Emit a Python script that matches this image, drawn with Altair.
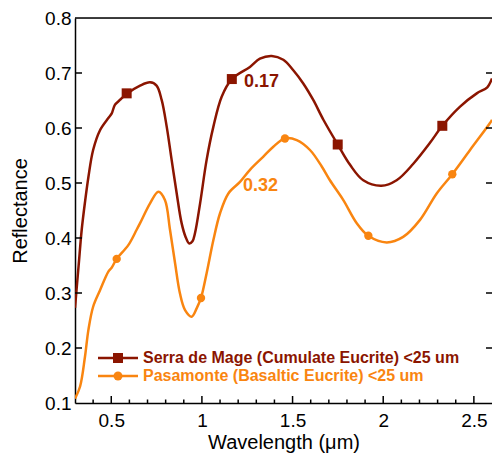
import altair as alt
import pandas as pd

# ---- data ----
serra_w = [0.300, 0.320, 0.337, 0.355, 0.374, 0.400, 0.438, 0.484, 0.502, 0.520, 0.548, 0.585,
           0.659, 0.714, 0.750, 0.778, 0.806, 0.833, 0.861, 0.888, 0.910, 0.930, 0.948, 0.962,
           0.990, 1.026, 1.063, 1.109, 1.165, 1.265, 1.320, 1.385, 1.449, 1.504, 1.559, 1.614,
           1.670, 1.749, 1.817, 1.890, 1.990, 2.074, 2.166, 2.258, 2.326, 2.424, 2.516,
           2.574, 2.600]
serra_r = [0.273, 0.350, 0.415, 0.465, 0.511, 0.560, 0.596, 0.618, 0.626, 0.642, 0.651, 0.662,
           0.677, 0.683, 0.677, 0.651, 0.602, 0.542, 0.481, 0.427, 0.402, 0.390, 0.394, 0.409,
           0.463, 0.542, 0.602, 0.657, 0.689, 0.711, 0.726, 0.731, 0.724, 0.705, 0.681, 0.651,
           0.615, 0.570, 0.533, 0.505, 0.495, 0.505, 0.535, 0.573, 0.604, 0.639, 0.663,
           0.674, 0.690]

pasa_w = [0.300, 0.328, 0.355, 0.374, 0.400, 0.438, 0.484, 0.502, 0.530, 0.594, 0.640, 0.659,
          0.714, 0.760, 0.796, 0.824, 0.852, 0.879, 0.907, 0.944, 0.971, 0.995, 1.026,
          1.063, 1.100, 1.146, 1.210, 1.265, 1.339, 1.394, 1.458, 1.523, 1.596, 1.661,
          1.706, 1.780, 1.854, 1.918, 2.019, 2.110, 2.203, 2.295, 2.381, 2.479, 2.589, 2.600]
pasa_r = [0.108, 0.130, 0.184, 0.233, 0.275, 0.305, 0.339, 0.346, 0.362, 0.387, 0.415, 0.427,
          0.463, 0.484, 0.469, 0.415, 0.354, 0.299, 0.269, 0.257, 0.272, 0.291, 0.336,
          0.396, 0.445, 0.481, 0.502, 0.524, 0.548, 0.566, 0.581, 0.578, 0.560, 0.530,
          0.505, 0.469, 0.427, 0.404, 0.392, 0.402, 0.433, 0.481, 0.516, 0.560, 0.609, 0.615]

serra_mark_w = [0.585, 1.165, 1.749, 2.326]
serra_mark_r = [0.663, 0.689, 0.570, 0.604]
pasa_mark_w = [0.530, 0.995, 1.458, 1.918, 2.381]
pasa_mark_r = [0.362, 0.291, 0.581, 0.404, 0.516]

series_names = ["Serra de Mage (Cumulate Eucrite) <25 um",
                "Pasamonte (Basaltic Eucrite) <25 um"]
annot_text = ["0.17", "0.32"]
annot_w = [1.232, 1.227]
annot_r = [0.684, 0.494]

x_major = [0.5, 1.0, 1.5, 2.0, 2.5]
x_minor = [0.4, 0.6, 0.7, 0.8, 0.9, 1.1, 1.2, 1.3, 1.4, 1.6, 1.7, 1.8, 1.9,
           2.1, 2.2, 2.3, 2.4]
y_ticks = [0.1, 0.2, 0.3, 0.4, 0.5, 0.6, 0.7, 0.8]

RED = "#8b1500"
ORANGE = "#f98510"
FONT = "Liberation Sans"
W, H = 417, 385

serra = pd.DataFrame({"w": serra_w, "r": serra_r})
pasa = pd.DataFrame({"w": pasa_w, "r": pasa_r})
serra_m = pd.DataFrame({"w": serra_mark_w, "r": serra_mark_r})
pasa_m = pd.DataFrame({"w": pasa_mark_w, "r": pasa_mark_r})
annot = pd.DataFrame({"w": annot_w, "r": annot_r, "t": annot_text,
                      "c": [RED, ORANGE]})

xs = alt.Scale(domain=[0.3, 2.6], nice=False, zero=False)
ys = alt.Scale(domain=[0.1, 0.8], nice=False, zero=False)

x_axis = alt.Axis(values=x_major, format="~g", title="Wavelength (μm)", ticks=False,
                  grid=False, labelFontSize=19, titleFontSize=20, labelPadding=8,
                  titlePadding=2, domainColor="black", domainWidth=1.5,
                  labelColor="black", titleColor="black", titleFontWeight="normal",
                  labelFont=FONT, titleFont=FONT)
y_axis = alt.Axis(values=y_ticks, format=".1f", title="Reflectance", ticks=False,
                  grid=False, labelFontSize=19, titleFontSize=20, labelPadding=4,
                  titlePadding=14, domainColor="black", domainWidth=1.5,
                  labelColor="black", titleColor="black", titleFontWeight="normal",
                  labelFont=FONT, titleFont=FONT)

base_x = alt.X("w:Q", scale=xs, axis=x_axis)
base_y = alt.Y("r:Q", scale=ys, axis=y_axis)

line_serra = alt.Chart(serra).mark_line(color=RED, strokeWidth=2.5, interpolate="catmull-rom",
                                        clip=True).encode(x=base_x, y=base_y)
line_pasa = alt.Chart(pasa).mark_line(color=ORANGE, strokeWidth=2.5, interpolate="catmull-rom",
                                      clip=True).encode(x="w:Q", y="r:Q")
pts_serra = alt.Chart(serra_m).mark_point(shape="square", filled=True, size=100, opacity=1,
                                          color=RED).encode(x="w:Q", y="r:Q")
pts_pasa = alt.Chart(pasa_m).mark_point(shape="circle", filled=True, size=70, opacity=1,
                                        color=ORANGE).encode(x="w:Q", y="r:Q")
annots = alt.Chart(annot).mark_text(align="left", baseline="middle", fontSize=18,
                                    fontWeight="bold", font=FONT).encode(
    x="w:Q", y="r:Q", text="t:N", color=alt.Color("c:N", scale=None))

# inward tick marks
xmaj = pd.DataFrame({"v": x_major})
xmin = pd.DataFrame({"v": x_minor})
yt = pd.DataFrame({"v": y_ticks[1:-1]})
tick_xmaj = alt.Chart(xmaj).mark_rule(color="black", strokeWidth=1.5).encode(
    x="v:Q", y=alt.value(H), y2=alt.value(H - 7))
tick_xmin = alt.Chart(xmin).mark_rule(color="black", strokeWidth=1.5).encode(
    x="v:Q", y=alt.value(H), y2=alt.value(H - 3.5))
tick_yl = alt.Chart(yt).mark_rule(color="black", strokeWidth=1.5).encode(
    y="v:Q", x=alt.value(0), x2=alt.value(7))
tick_yr = alt.Chart(yt).mark_rule(color="black", strokeWidth=1.5).encode(
    y="v:Q", x=alt.value(W - 6), x2=alt.value(W))
one = pd.DataFrame({"k": [0]})
top_line = alt.Chart(one).mark_rule(color="black", strokeWidth=1.5).encode(
    y=alt.value(0), x=alt.value(0), x2=alt.value(W))

# legend
def legend_row(name, color, shape, size, ypix):
    ln = alt.Chart(one).mark_rule(color=color, strokeWidth=2.5).encode(
        x=alt.value(23), x2=alt.value(63), y=alt.value(ypix))
    pt = alt.Chart(one).mark_point(shape=shape, filled=True, size=size, opacity=1,
                                   color=color).encode(x=alt.value(43), y=alt.value(ypix))
    tx = alt.Chart(one).mark_text(align="left", baseline="middle", fontSize=16,
                                  fontWeight="bold", font=FONT, color=color).encode(
        x=alt.value(68), y=alt.value(ypix), text=alt.value(name))
    return [ln, pt, tx]

legend = legend_row(series_names[0], RED, "square", 100, 340) + \
    legend_row(series_names[1], ORANGE, "circle", 80, 358)

chart = alt.layer(
    line_serra, line_pasa, pts_serra, pts_pasa, annots,
    tick_xmaj, tick_xmin, tick_yl, tick_yr, top_line, *legend
).properties(
    width=W, height=H,
    padding={"left": 75, "top": 18, "right": 0, "bottom": 53},
    autosize=alt.AutoSizeParams(type="none"),
).configure_view(stroke=None).configure(font=FONT, background="white")

chart.save("out.html", embed_options={"renderer": "svg", "actions": False})
